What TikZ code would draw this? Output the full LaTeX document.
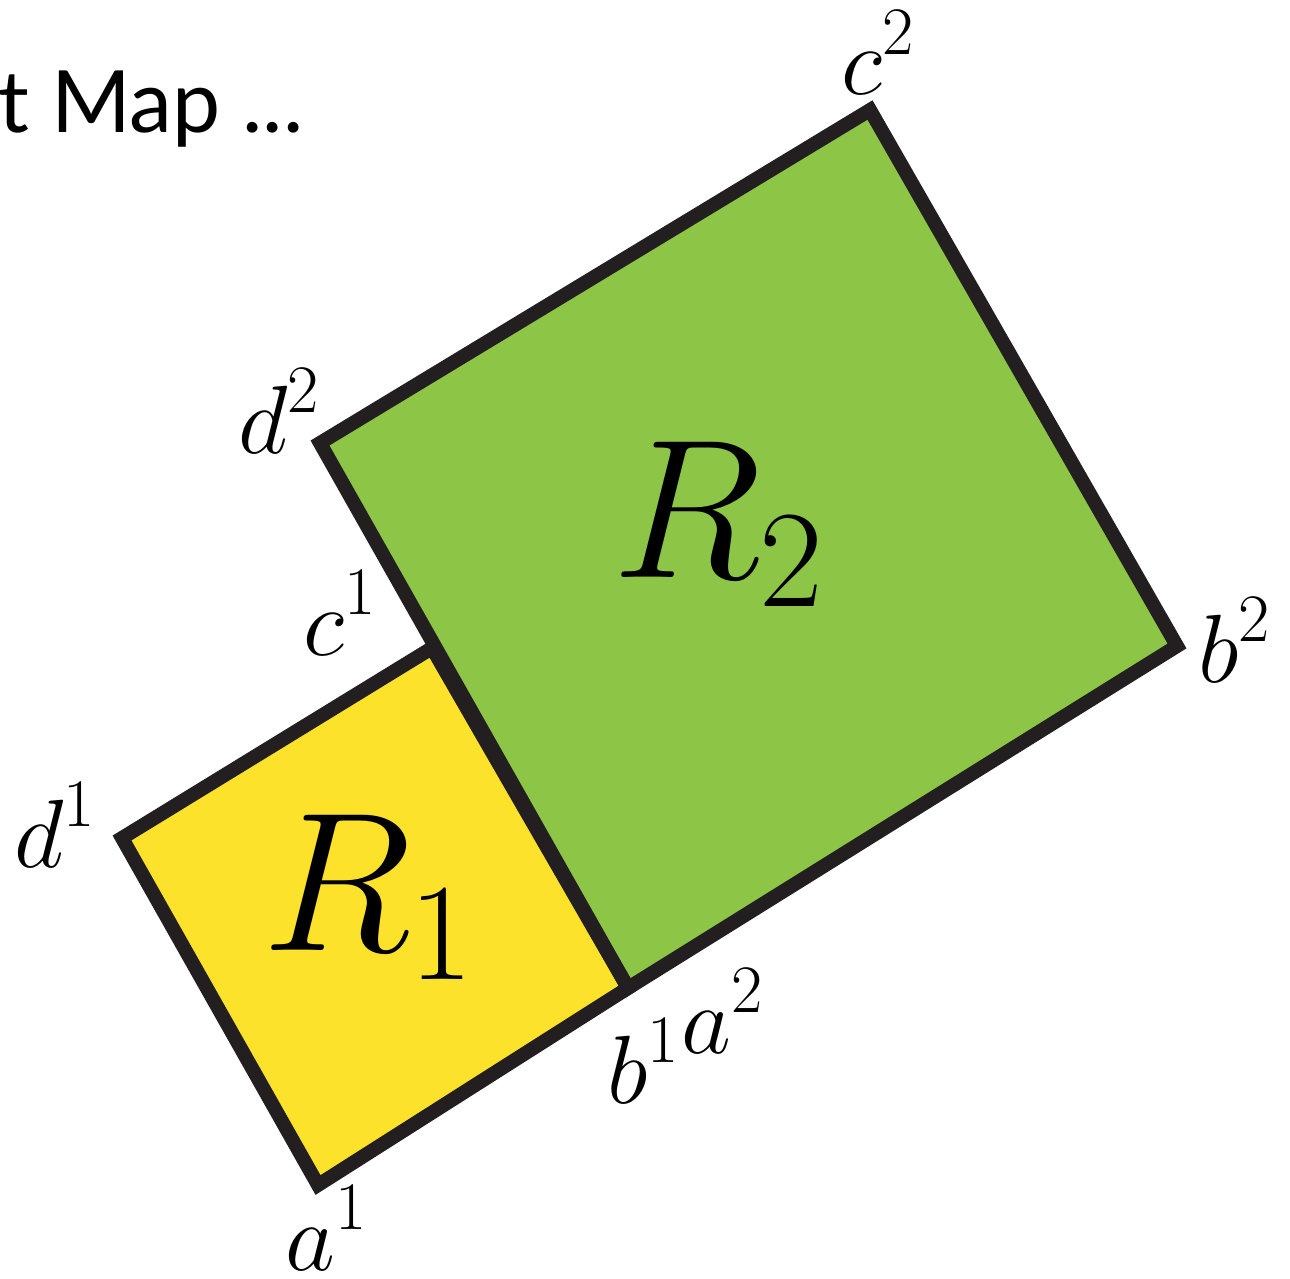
\documentclass[tikz,border=0pt]{standalone}
\usepackage{fix-cm}
\usepackage{fontspec}
\newfontfamily\titlefont{Lato}
\definecolor{edge}{HTML}{231F20}
\definecolor{yel}{HTML}{FCE22B}
\definecolor{grn}{HTML}{8DC646}
\tikzset{
  face/.style={draw=edge, line width=14pt, line join=miter},
  vlabel/.style={inner sep=0pt, anchor=base west, font=\fontsize{97}{110}\selectfont},
  rlabel/.style={inner sep=0pt, anchor=base west, font=\fontsize{198}{210}\selectfont},
}
\begin{document}
\begin{tikzpicture}[x=1pt,y=-1pt]
\useasboundingbox (0,0) rectangle (1290,1279);
\coordinate (a1) at (318,1185);
\coordinate (b1) at (628,988);
\coordinate (c1) at (432,648);
\coordinate (d1) at (122,838);
\coordinate (b2) at (1177,646);
\coordinate (c2) at (870,110);
\coordinate (d2) at (320,443);
\fill[grn] (b1) -- (b2) -- (c2) -- (d2) -- cycle;
\fill[yel] (a1) -- (b1) -- (c1) -- (d1) -- cycle;
\draw[face] (b1) -- (b2) -- (c2) -- (d2) -- cycle;
\draw[face] (a1) -- (b1) -- (c1) -- (d1) -- cycle;
\node[anchor=base west, inner sep=0pt, font=\titlefont\fontsize{86}{94}\selectfont] (title) at (-2,132) {t Map ...};
\node[rlabel] (R1) at (262,950) {$R_1$};
\node[rlabel] (R2) at (612,577) {$R_2$};
\node[vlabel] (lc2) at (841,95) {$\displaystyle c^2$};
\node[vlabel] (ld2) at (238,453) {$\displaystyle d^2$};
\node[vlabel] (lc1) at (303,655) {$\displaystyle c^1$};
\node[vlabel] (lb2) at (1198,682) {$\displaystyle b^2$};
\node[vlabel] (ld1) at (14,867) {$\displaystyle d^1$};
\node[vlabel] (la1) at (285,1270) {$\displaystyle a^1$};
\node[vlabel] (lb1) at (607,1103) {$\displaystyle b^1$};
\node[vlabel] (la2) at (681,1053) {$\displaystyle a^2$};
\end{tikzpicture}
\end{document}
